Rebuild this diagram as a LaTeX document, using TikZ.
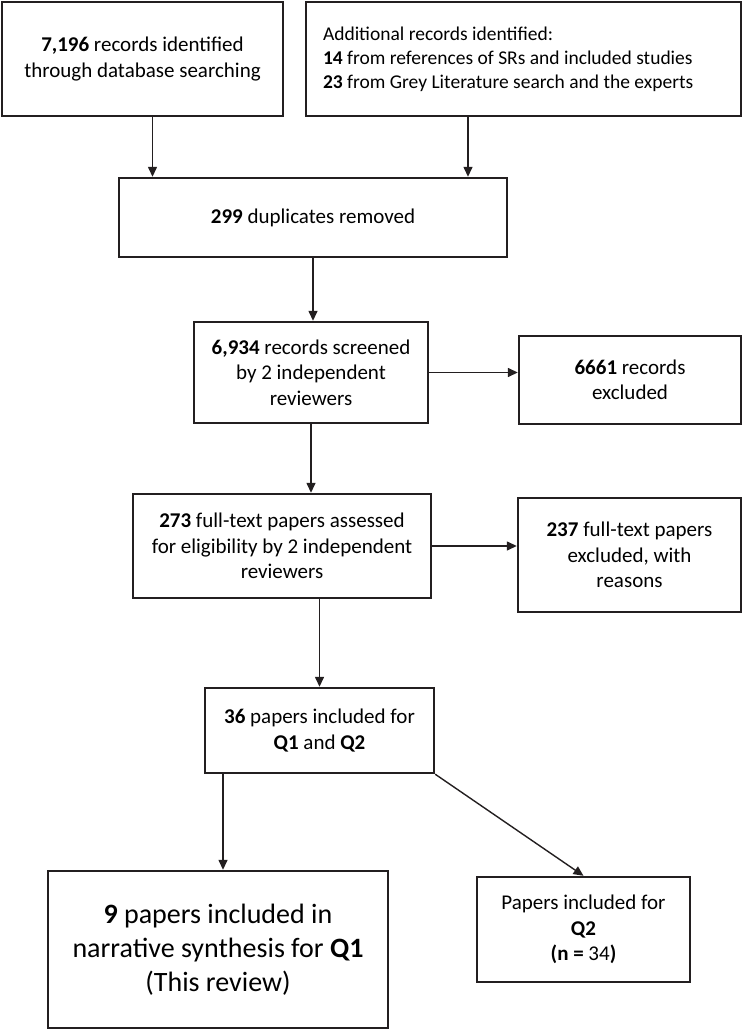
\documentclass[tikz,border=0pt]{standalone}
\usepackage{fontspec}
\setmainfont{Carlito}
\usetikzlibrary{arrows.meta}
\definecolor{boxline}{HTML}{231F20}
\tikzset{
	box/.style={draw=boxline,line width=1.2pt,align=center,inner sep=2pt,font=\fontsize{10.5}{12.75}\selectfont},
	arr/.style={draw=boxline,line width=0.7pt,-{Triangle[length=5pt,width=4.5pt]}}
}
\begin{document}
\begin{tikzpicture}[x=0.5pt,y=-0.5pt]
		\useasboundingbox(0,0)rectangle(743,1031);
		\node[box,minimum width=140.5pt,minimum height=57pt](rec)at(142.5,59){\textbf{7,196} records identified\\through database searching};
		\node[box,align=flush left,text width=200.5pt,inner xsep=8.5pt,minimum height=57pt,font=\fontsize{9.75}{12}\selectfont](add)at(523.5,59){Additional records identified:\\\textbf{14} from references of SRs and included studies\\\textbf{23} from Grey Literature search and the experts};
		\node[box,minimum width=194pt,minimum height=39.5pt](dup)at(313,217.5){\textbf{299} duplicates removed};
		\node[box,minimum width=117pt,minimum height=50.5pt](scr)at(311,372.5){\textbf{6,934} records screened\\by 2 independent\\reviewers};
		\node[box,minimum width=111pt,minimum height=44pt](exc)at(630,380){\textbf{6661} records\\excluded};
		\node[box,minimum width=149pt,minimum height=52pt](full)at(282,546){\textbf{273} full-text papers assessed\\for eligibility by 2 independent\\reviewers};
		\node[box,minimum width=111.5pt,minimum height=57pt](fexc)at(629.5,555){\textbf{237} full-text papers\\excluded, with\\reasons};
		\node[box,minimum width=114.5pt,minimum height=42.5pt](inc)at(319.5,730.5){\textbf{36} papers included for\\\textbf{Q1} and \textbf{Q2}};
		\node[box,minimum width=170pt,minimum height=78.5pt,font=\fontsize{14}{17}\selectfont](syn)at(218,949.5){\textbf{9} papers included in\\narrative synthesis for \textbf{Q1}\\(This review)};
		\node[box,minimum width=106.5pt,minimum height=52.5pt](qtwo)at(583.5,929.5){Papers included for\\\textbf{Q2}\\\textbf{(n =} 34\textbf{)}};
		\coordinate(r1)at([xshift=5pt]rec.south);
		\coordinate(a1)at([xshift=-27.75pt]add.south);
		\coordinate(i1)at([xshift=2.5pt]syn.north);
		\draw[arr](r1)--(r1|-dup.north);
		\draw[arr](a1)--(a1|-dup.north);
		\draw[arr](dup.south)--(dup.south|-scr.north);
		\draw[arr](scr.east)--(scr.east-|exc.west);
		\draw[arr](scr.south)--(scr.south|-full.north);
		\draw[arr](full.east)--(full.east-|fexc.west);
		\draw[arr](inc.north|-full.south)--(inc.north);
		\draw[arr](i1|-inc.south)--(i1);
		\draw[arr](inc.south east)--(qtwo.north);
	\end{tikzpicture}
\end{document}
